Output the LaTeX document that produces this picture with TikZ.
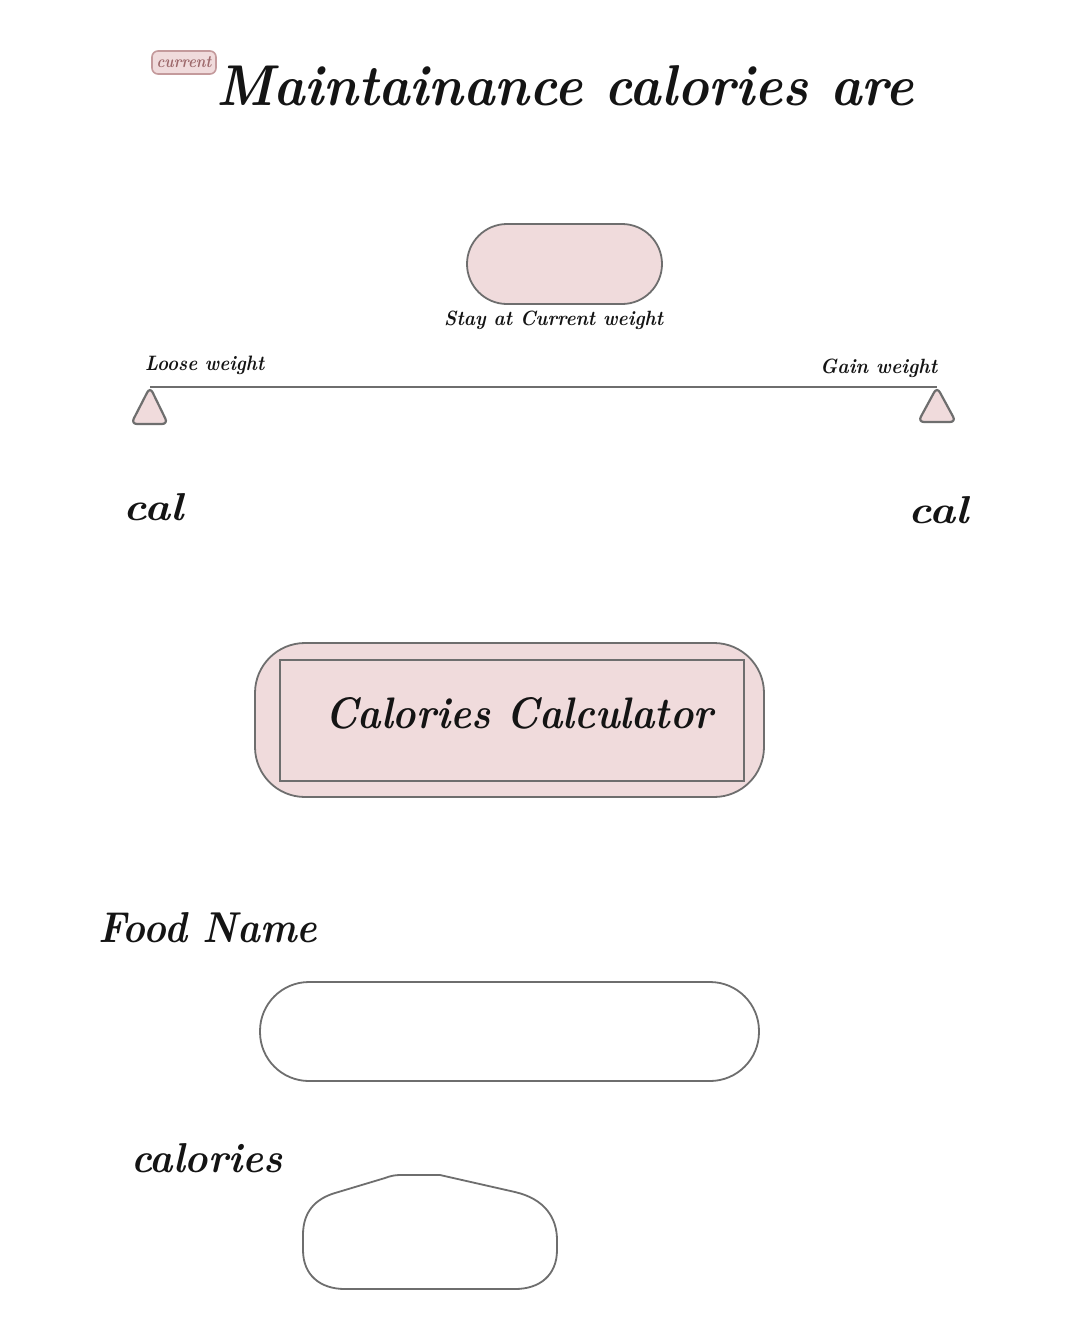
\documentclass[tikz,border=0pt]{standalone}
\usepackage{graphicx}
\definecolor{pinkfill}{HTML}{F0DBDC}
\definecolor{edgegray}{HTML}{6E6E6E}
\definecolor{badgeedge}{HTML}{C49A9C}
\definecolor{badgetext}{HTML}{9E6A6C}
\definecolor{ink}{HTML}{141414}
\newcommand{\fitw}[3]{\resizebox{#1pt}{#2pt}{\bfseries\itshape #3}}
\begin{document}
\begin{tikzpicture}[x=1pt,y=-1pt,
  txt/.style={inner sep=0pt,anchor=base west,text=ink},
  pinkbox/.style={fill=pinkfill,draw=edgegray,line width=1.8pt},
  whitebox/.style={fill=white,draw=edgegray,line width=1.8pt},
  beam/.style={draw=edgegray,line width=2pt}]
\useasboundingbox (0,0) rectangle (1080,1342);
\fill[white] (0,0) rectangle (1080,1342);

% badge
\node[draw=badgeedge,fill=pinkfill,line width=1.6pt,rounded corners=6pt,minimum width=64pt,minimum height=23pt,inner sep=0pt,text=badgetext] (badge) at (184,62.5) {\resizebox{55pt}{11pt}{\bfseries\itshape current}};
% title
\node[txt] (title) at (216,105) {\fitw{697}{40}{Maintainance calories are}};

% stay pill
\node[pinkbox,rounded corners=40pt,minimum width=195pt,minimum height=80pt,inner sep=0pt] (stay) at (564.5,264) {};
\node[txt] (staylbl) at (444,325) {\fitw{219}{14.5}{Stay at Current weight}};

% beam
\coordinate (lefttip) at (150,387);
\coordinate (righttip) at (937,387);
\draw[beam] (lefttip) -- (righttip);
\node[txt] (loose) at (145,370) {\fitw{119}{14.5}{Loose weight}};
\node[txt] (gain) at (820,373) {\fitw{117}{14.5}{Gain weight}};

% triangles
\draw[pinkbox,line width=2.2pt,rounded corners=6pt] (150,387) -- (168,424) -- (131,424) -- cycle;
\draw[pinkbox,line width=2.2pt,rounded corners=6pt] (937,387) -- (956,422) -- (918,422) -- cycle;

% cal labels
\node[txt] (calL) at (123,520) {\fitw{60}{27}{cal}};
\node[txt] (calR) at (908,523) {\fitw{60}{27}{cal}};

% calculator
\node[pinkbox,rounded corners=50pt,minimum width=509pt,minimum height=154pt,inner sep=0pt] (calcouter) at (509.5,720) {};
\node[draw=edgegray,line width=1.8pt,minimum width=464pt,minimum height=121pt,inner sep=0pt] (calcinner) at (512,720.5) {};
\node[txt] (calctext) at (325,728) {\fitw{388}{31}{Calories Calculator}};

% food name
\node[txt] (foodlbl) at (98,942) {\fitw{219}{30}{Food Name}};
\node[whitebox,rounded corners=49pt,minimum width=499pt,minimum height=99pt,inner sep=0pt] (foodbox) at (509.5,1031.5) {};

% calories
\node[txt] (callbl) at (131,1172) {\fitw{151}{29}{calories}};
\draw[whitebox] (400,1175) -- (440,1175) -- (515,1192)
  .. controls (545,1199) and (557,1218) .. (557,1240) -- (557,1250)
  .. controls (557,1275) and (540,1289) .. (515,1289) -- (345,1289)
  .. controls (320,1289) and (303,1275) .. (303,1250) -- (303,1235)
  .. controls (303,1212) and (315,1199) .. (335,1193) -- (385,1178)
  .. controls (390,1176) and (395,1175) .. (400,1175) -- cycle;
\end{tikzpicture}
\end{document}
